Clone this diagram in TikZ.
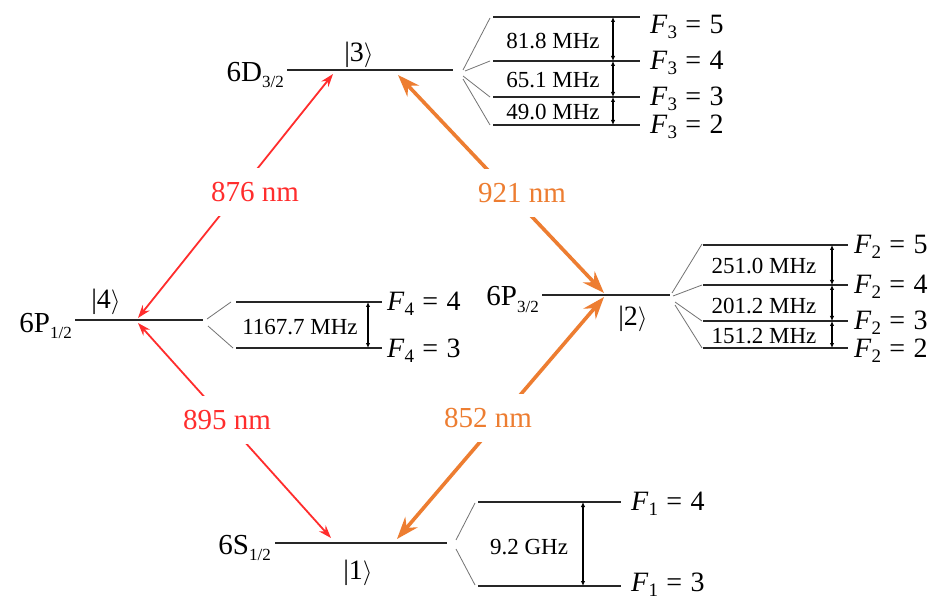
\documentclass[tikz,border=0pt]{standalone}
\usepackage{fontspec}
\setmainfont{Liberation Serif}
\usetikzlibrary{arrows.meta}
\definecolor{lred}{RGB}{255,45,45}
\definecolor{lorange}{RGB}{237,125,49}
\newcommand{\flev}[2]{\textit{F}\raisebox{-5pt}{\fontsize{19}{19}\selectfont #1}\hspace{0.3em}=\hspace{0.3em}#2}
\newcommand{\ketlab}[1]{|#1$\rangle$}
\begin{document}
\begin{tikzpicture}[x=1pt,y=-1pt,
 level/.style={line width=2.6pt, black!85},
 fan/.style={line width=0.8pt, black!55},
 hf/.style={line width=2.4pt, black!85},
 sep/.style={{Latex[length=5pt,width=4.5pt]}-{Latex[length=5pt,width=4.5pt]}, line width=1.3pt},
 redarrow/.style={lred, line width=1.8pt, {Stealth[length=13pt,width=9pt]}-{Stealth[length=13pt,width=9pt]}},
 orarrow/.style={lorange, line width=3.6pt, {Stealth[length=22pt,width=16pt]}-{Stealth[length=22pt,width=16pt]}},
 wl/.style={fill=white, inner xsep=3pt, inner ysep=14pt, font=\fontsize{29}{30}\selectfont},
 freq/.style={font=\fontsize{23}{24}\selectfont, inner sep=0pt},
 flab/.style={anchor=base west, inner sep=0pt, font=\fontsize{28}{30}\selectfont},
 term/.style={anchor=base east, inner sep=0pt, font=\fontsize{29}{31}\selectfont},
 ket/.style={inner sep=0pt, font=\fontsize{28}{30}\selectfont}
]
\fill[white] (0,0) rectangle (947,601);
\useasboundingbox (0,0) rectangle (947,601);

% ---------- main levels ----------
\coordinate (l3a) at (287,70);  \coordinate (l3b) at (453,70);
\coordinate (l2a) at (542,295); \coordinate (l2b) at (670,295);
\coordinate (l4a) at (75,320);  \coordinate (l4b) at (203,320);
\coordinate (l1a) at (275,543); \coordinate (l1b) at (447,543);
\draw[level] (l3a) -- (l3b);
\draw[level] (l2a) -- (l2b);
\draw[level] (l4a) -- (l4b);
\draw[level] (l1a) -- (l1b);

\node[term] (t3) at (284,82) {6D\raisebox{-6pt}{\fontsize{17}{17}\selectfont 3/2}};
\node[term] (t2) at (539,306) {6P\raisebox{-6pt}{\fontsize{17}{17}\selectfont 3/2}};
\node[term] (t4) at (72,332) {6P\raisebox{-6pt}{\fontsize{17}{17}\selectfont 1/2}};
\node[term] (t1) at (271,554) {6S\raisebox{-6pt}{\fontsize{17}{17}\selectfont 1/2}};

\node[ket] (k3) at (359,55) {\ketlab{3}};
\node[ket] (k2) at (633,319) {\ketlab{2}};
\node[ket] (k4) at (106,302) {\ketlab{4}};
\node[ket] (k1) at (358,573) {\ketlab{1}};

% ---------- transitions ----------
\coordinate (a3r) at (333,74);  \coordinate (a3o) at (398,75);
\coordinate (a4t) at (138,318); \coordinate (a4b) at (138,323);
\coordinate (a2t) at (604,293); \coordinate (a2b) at (604,297);
\coordinate (a1r) at (331,538); \coordinate (a1o) at (397,539);
\draw[redarrow] (a4t) -- (a3r);
\draw[redarrow] (a4b) -- (a1r);
\draw[orarrow] (a3o) -- (a2t);
\draw[orarrow] (a2b) -- (a1o);
\node[wl, text=lred] (w876) at (255,192) {876 nm};
\node[wl, text=lred] (w895) at (227,420) {895 nm};
\node[wl, text=lorange] (w921) at (522,193) {921 nm};
\node[wl, text=lorange] (w852) at (488,418) {852 nm};

% ---------- hyperfine of |3> ----------
\foreach \n/\y in {5/17, 4/61, 3/97, 2/125}{
  \coordinate (f3a\n) at (493,\y); \coordinate (f3b\n) at (640,\y);
  \draw[hf] (f3a\n) -- (f3b\n);
}
\draw[fan] (463,70) -- (490,18);
\draw[fan] (465,71) -- (490,61);
\draw[fan] (463,76) -- (490,97);
\draw[fan] (463,79) -- (490,125);
\coordinate (s35) at (613,17); \coordinate (s34) at (613,61);
\coordinate (s33) at (613,97); \coordinate (s32) at (613,125);
\draw[sep] (s35) -- (s34);
\draw[sep] (s34) -- (s33);
\draw[sep] (s33) -- (s32);
\node[freq] (q31) at (553,41) {81.8 MHz};
\node[freq] (q32) at (553,80) {65.1 MHz};
\node[freq] (q33) at (553,112) {49.0 MHz};
\node[flab] (F35) at (650,34) {\flev{3}{5}};
\node[flab] (F34) at (650,70) {\flev{3}{4}};
\node[flab] (F33) at (650,106) {\flev{3}{3}};
\node[flab] (F32) at (650,134) {\flev{3}{2}};

% ---------- hyperfine of |2> ----------
\foreach \n/\y in {5/245, 4/285, 3/321, 2/348}{
  \coordinate (f2a\n) at (703,\y); \coordinate (f2b\n) at (848,\y);
  \draw[hf] (f2a\n) -- (f2b\n);
}
\draw[fan] (672,293) -- (702,244);
\draw[fan] (673,296) -- (702,285);
\draw[fan] (675,302) -- (702,321);
\draw[fan] (675,305) -- (702,348);
\coordinate (s25) at (832,245); \coordinate (s24) at (832,285);
\coordinate (s23) at (832,321); \coordinate (s22) at (832,348);
\draw[sep] (s25) -- (s24);
\draw[sep] (s24) -- (s23);
\draw[sep] (s23) -- (s22);
\node[freq] (q21) at (764,266) {251.0 MHz};
\node[freq] (q22) at (764,306) {201.2 MHz};
\node[freq] (q23) at (764,336) {151.2 MHz};
\node[flab] (F25) at (854,254) {\flev{2}{5}};
\node[flab] (F24) at (854,294) {\flev{2}{4}};
\node[flab] (F23) at (854,330) {\flev{2}{3}};
\node[flab] (F22) at (854,357) {\flev{2}{2}};

% ---------- hyperfine of |4> ----------
\foreach \n/\y in {4/302, 3/348}{
  \coordinate (f4a\n) at (236,\y); \coordinate (f4b\n) at (382,\y);
  \draw[hf] (f4a\n) -- (f4b\n);
}
\draw[fan] (207,319) -- (231,302);
\draw[fan] (208,326) -- (233,348);
\coordinate (s44) at (368,302); \coordinate (s43) at (368,348);
\draw[sep] (s44) -- (s43);
\node[freq] (q41) at (300,327) {1167.7 MHz};
\node[flab] (F44) at (387,311) {\flev{4}{4}};
\node[flab] (F43) at (387,357) {\flev{4}{3}};

% ---------- hyperfine of |1> ----------
\foreach \n/\y in {4/502, 3/586}{
  \coordinate (f1a\n) at (478,\y); \coordinate (f1b\n) at (621,\y);
  \draw[hf] (f1a\n) -- (f1b\n);
}
\draw[fan] (456,540) -- (475,503);
\draw[fan] (456,549) -- (475,585);
\coordinate (s14) at (583,502); \coordinate (s13) at (583,586);
\draw[sep] (s14) -- (s13);
\node[freq] (q11) at (529,547) {9.2 GHz};
\node[flab] (F14) at (631,510) {\flev{1}{4}};
\node[flab] (F13) at (631,591) {\flev{1}{3}};
\end{tikzpicture}
\end{document}
